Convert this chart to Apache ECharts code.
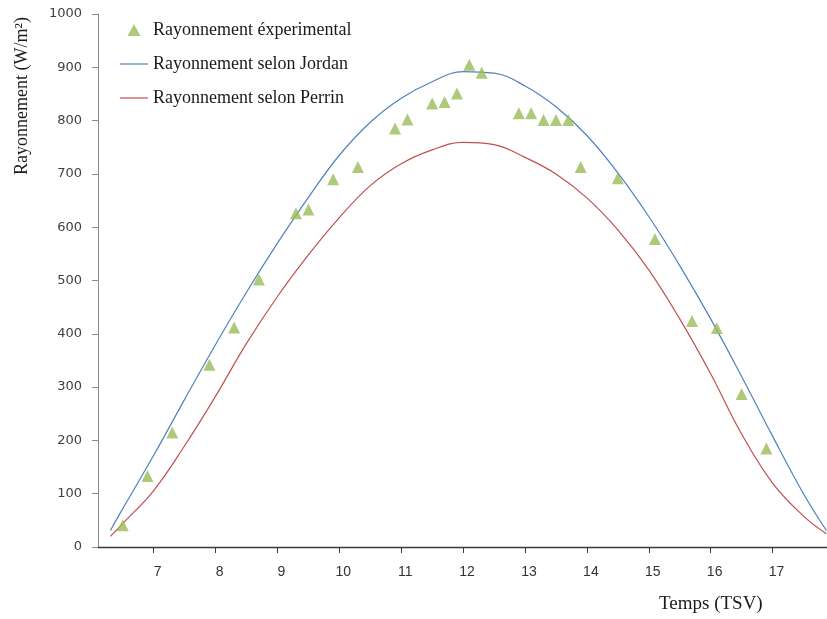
<!DOCTYPE html>
<html>
<head>
<meta charset="utf-8">
<script src="https://cdn.jsdelivr.net/npm/echarts@6/dist/echarts.min.js"></script>
<style>
  html, body { margin: 0; padding: 0; background: #ffffff; }
  #chart { width: 827px; height: 619px; }
</style>
</head>
<body>
<div id="chart"></div>
<script>
// Measured irradiance (hours of true solar time, W/m²)
const expHours = [6.5, 6.9, 7.3, 7.9, 8.3, 8.7, 9.3, 9.5, 9.9, 10.3, 10.9, 11.1, 11.5, 11.7, 11.9, 12.1, 12.3, 12.9, 13.1, 13.3, 13.5, 13.7, 13.9, 14.5, 15.1, 15.7, 16.1, 16.5, 16.9];
const expValues = [41, 133, 215, 342, 412, 502, 626, 633, 690, 713, 785, 802, 832, 835, 851, 905, 890, 814, 814, 801, 801, 801, 713, 692, 578, 424, 411, 287, 185];

// Model curves (Jordan and Perrin), sampled every half hour between sunrise and sunset
const modelHours = [6.3, 6.5, 7.0, 7.5, 8.0, 8.5, 9.0, 9.5, 10.0, 10.5, 11.0, 11.5, 12.0, 12.5, 13.0, 13.5, 14.0, 14.5, 15.0, 15.5, 16.0, 16.5, 17.0, 17.5, 17.87];
const jordanValues = [31, 72, 172, 277, 380, 478, 570, 656, 735, 797, 842, 873, 892, 889, 865, 826, 772, 702, 620, 528, 428, 320, 208, 100, 31];
const perrinValues = [20, 44, 106, 190, 283, 382, 470, 548, 618, 678, 719, 745, 759, 755, 731, 700, 655, 595, 520, 428, 325, 212, 120, 58, 25];

const legendNames = ['Rayonnement éxperimental', 'Rayonnement selon Jordan', 'Rayonnement selon Perrin'];
const xTitle = 'Temps (TSV)';
const yTitle = 'Rayonnement (W/m²)';

const pairs = (xs, ys) => xs.map((x, i) => [x, ys[i]]);
const serif = 'Liberation Serif';

// Legend glyphs: plain triangle for the measurements, bare strokes for the models
const triangleIcon = 'path://M6,0 L12,11 L0,11 Z';
const strokeIcon = 'path://M0,0 L28,0 L28,1.2 L0,1.2 Z';

const chart = echarts.init(document.getElementById('chart'), null, { renderer: 'canvas' });
chart.setOption({
  animation: false,
  backgroundColor: '#ffffff',
  grid: { left: 98, right: 0, top: 14, bottom: 72, containLabel: false },
  legend: {
    data: [
      { name: legendNames[0], icon: triangleIcon },
      { name: legendNames[1], icon: strokeIcon },
      { name: legendNames[2], icon: strokeIcon }
    ],
    orient: 'vertical',
    left: 115,
    top: 16,
    padding: 5,
    itemWidth: 28,
    itemHeight: 12,
    itemGap: 16,
    textStyle: { fontFamily: serif, fontSize: 18, color: '#1a1a1a' }
  },
  xAxis: {
    type: 'value',
    min: 6.1,
    max: 17.88,
    minInterval: 1,
    maxInterval: 1,
    splitLine: { show: false },
    axisLine: { show: true, onZero: false, lineStyle: { color: '#3a3a3a', width: 1.3 } },
    axisTick: { show: true, length: 6, lineStyle: { color: '#3a3a3a' } },
    axisLabel: {
      showMinLabel: false,
      showMaxLabel: false,
      margin: 18,
      padding: [0, 0, 0, 8],
      fontFamily: 'Liberation Sans',
      fontSize: 14,
      color: '#333333',
      formatter: v => (Math.abs(v - Math.round(v)) < 1e-6 ? String(Math.round(v)) : '')
    }
  },
  yAxis: {
    type: 'value',
    min: 0,
    max: 1000,
    interval: 100,
    splitLine: { show: false },
    axisLine: { show: true, lineStyle: { color: '#8a8a8a', width: 1 } },
    axisTick: { show: true, length: 6, lineStyle: { color: '#8a8a8a' } },
    axisLabel: {
      margin: 16,
      fontFamily: 'DejaVu Sans',
      fontSize: 13,
      color: '#404040',
      formatter: v => String(v)
    }
  },
  graphic: [
    {
      type: 'text',
      left: 659,
      top: 595,
      style: { text: xTitle, fontFamily: serif, fontSize: 19, fill: '#1a1a1a' }
    },
    {
      type: 'text',
      x: 22,
      y: 96,
      rotation: Math.PI / 2,
      style: { text: yTitle, fontFamily: serif, fontSize: 18, fill: '#1a1a1a', align: 'center', verticalAlign: 'middle' }
    }
  ],
  series: [
    {
      name: legendNames[0],
      type: 'scatter',
      symbol: 'triangle',
      symbolSize: 12,
      itemStyle: { color: '#9bbb59' },
      data: pairs(expHours, expValues),
      z: 3
    },
    {
      name: legendNames[1],
      type: 'line',
      smooth: 0.4,
      symbol: 'none',
      showSymbol: false,
      lineStyle: { color: '#4f81bd', width: 1.2 },
      itemStyle: { color: '#4f81bd' },
      data: pairs(modelHours, jordanValues)
    },
    {
      name: legendNames[2],
      type: 'line',
      smooth: 0.4,
      symbol: 'none',
      showSymbol: false,
      lineStyle: { color: '#c0504d', width: 1.2 },
      itemStyle: { color: '#c0504d' },
      data: pairs(modelHours, perrinValues)
    }
  ]
});
</script>
</body>
</html>
